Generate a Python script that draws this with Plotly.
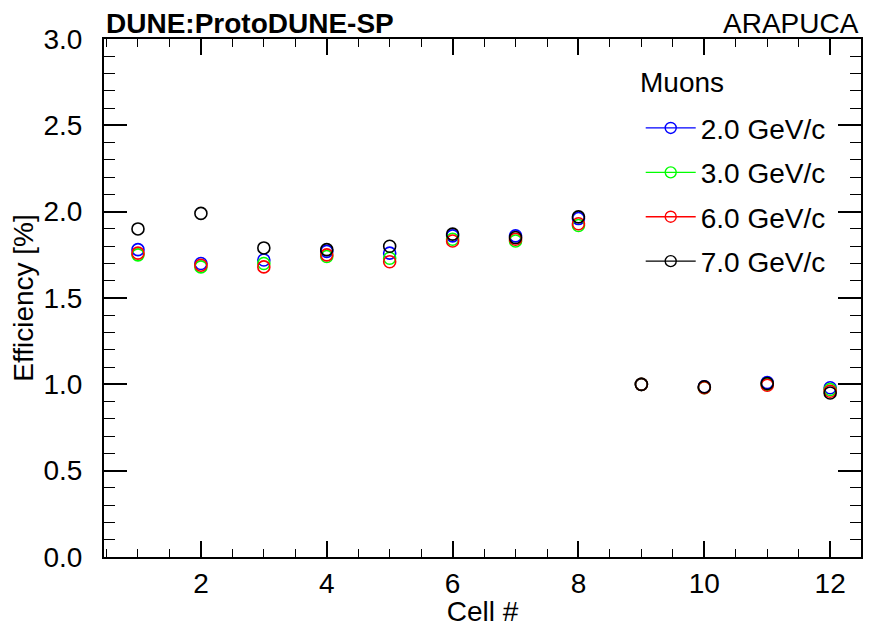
import plotly.graph_objects as go

cells = [1, 2, 3, 4, 5, 6, 7, 8, 9, 10, 11, 12]
labels = ["2.0 GeV/c", "3.0 GeV/c", "6.0 GeV/c", "7.0 GeV/c"]
colors = ["#0000ff", "#00ff00", "#ff0000", "#000000"]
eff_2gev = [1.78, 1.70, 1.72, 1.77, 1.76, 1.86, 1.86, 1.96, 1.00, 0.985, 1.01, 0.98]
eff_3gev = [1.75, 1.68, 1.70, 1.74, 1.73, 1.84, 1.83, 1.92, 1.00, 0.98, 1.00, 0.97]
eff_6gev = [1.76, 1.69, 1.68, 1.75, 1.71, 1.83, 1.84, 1.93, 1.00, 0.98, 0.995, 0.96]
eff_7gev = [1.90, 1.99, 1.79, 1.78, 1.80, 1.87, 1.85, 1.97, 1.00, 0.985, 1.005, 0.95]
series = [eff_2gev, eff_3gev, eff_6gev, eff_7gev]

FONT = "Liberation Sans, Arial, sans-serif"
FS = 28
fig = go.Figure()
for lab, col, vals in zip(labels, colors, series):
    fig.add_trace(go.Scatter(
        x=cells, y=vals, mode="markers", showlegend=False,
        marker=dict(symbol="circle-open", size=12, color=col, line=dict(width=1.6, color=col)),
    ))
for i, (lab, col) in enumerate(zip(labels, colors)):
    fig.add_trace(go.Scatter(
        x=[None], y=[None], mode="lines+markers", name=lab, legendgroup=f"g{i}",
        line=dict(color=col, width=1.3),
        marker=dict(symbol="circle-open", size=11, color=col, line=dict(width=1.4, color=col)),
    ))

axis_common = dict(
    showgrid=False, zeroline=False, showline=True, linecolor="black", linewidth=2,
    mirror="allticks", ticks="inside", tickwidth=1.5, tickcolor="black",
    tickfont=dict(family=FONT, size=FS, color="black"),
)
fig.update_xaxes(
    range=[0.46, 12.49], tick0=0, dtick=2, ticklen=16,
    minor=dict(dtick=0.5, tick0=0, ticks="inside", ticklen=8, tickwidth=1.2, tickcolor="black"),
    title=dict(text="Cell #", font=dict(family=FONT, size=FS, color="black"), standoff=0),
    **axis_common,
)
fig.update_yaxes(
    range=[0, 3.0], tick0=0, dtick=0.5, tickformat=".1f", ticklen=23,
    ticklabelposition="outside", ticklabelstandoff=14,
    minor=dict(dtick=0.1, tick0=0, ticks="inside", ticklen=11, tickwidth=1.2, tickcolor="black"),
    title=dict(text="Efficiency [%]", font=dict(family=FONT, size=FS, color="black"), standoff=2),
    **axis_common,
)
fig.update_layout(
    width=872, height=627,
    margin=dict(l=104, r=9, t=39, b=68),
    paper_bgcolor="white", plot_bgcolor="white",
    showlegend=True,
    legend=dict(
        x=0.709, y=0.876, xanchor="left", yanchor="top",
        bgcolor="rgba(0,0,0,0)", borderwidth=0,
        font=dict(family=FONT, size=FS, color="black"),
        tracegroupgap=5, itemwidth=50,
    ),
    annotations=[
        dict(text="<b>DUNE:ProtoDUNE-SP</b>", xref="paper", yref="paper", x=0, y=1.0,
             xanchor="left", yanchor="bottom", yshift=-2, showarrow=False,
             font=dict(family=FONT, size=FS, color="black")),
        dict(text="ARAPUCA", xref="paper", yref="paper", x=1, y=1.0,
             xanchor="right", yanchor="bottom", yshift=-2, showarrow=False,
             font=dict(family=FONT, size=FS, color="black")),
        dict(text="Muons", xref="paper", yref="paper", x=0.706, y=0.916,
             xanchor="left", yanchor="middle", showarrow=False,
             font=dict(family=FONT, size=FS, color="black")),
    ],
)
fig.write_html("out.html")
